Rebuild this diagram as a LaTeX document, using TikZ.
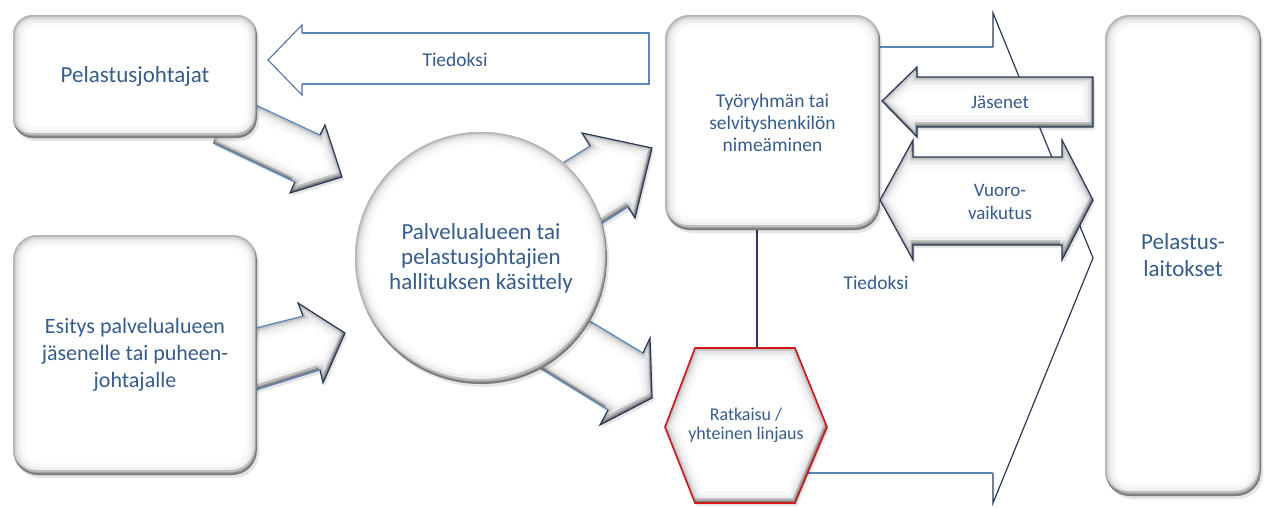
\documentclass[tikz,border=0pt]{standalone}
\usepackage{fontspec}
\setmainfont{Carlito}
\definecolor{txt}{RGB}{54,92,140}
\definecolor{lb}{RGB}{90,135,190}
\definecolor{db}{RGB}{42,58,88}
\definecolor{sb}{RGB}{85,112,160}
\definecolor{hexred}{RGB}{205,25,25}
\newcommand{\myfs}[2]{\fontsize{#1}{#2}\selectfont}
\newcommand{\bevelshape}[1]{%
  \fill[black, opacity=0.10, shift={(2,3)}] #1;
  \begin{scope}
    \clip #1;
    \fill[black!32] #1;
    \fill[black!16, shift={(-1,-2.5)}] #1;
    \fill[white, shift={(-2,-5)}] #1;
    \foreach \w/\o in {24/0.025, 16/0.04, 10/0.055, 6/0.08, 3/0.12} {\draw[black, opacity=\o, line width=\w] #1;}
  \end{scope}}
\tikzset{
  lbline/.style={draw=lb, line width=1.1pt},
  dbline/.style={draw=db, line width=1.2pt, line join=miter},
  sbline/.style={draw=sb, line width=1.1pt, line join=miter},
  lbl/.style={text=txt, align=center, inner sep=0pt}
}
\begin{document}
\begin{tikzpicture}[x=1pt,y=-1pt]
\useasboundingbox (0,0) rectangle (1265,507);
\fill[white] (0,0) rectangle (1265,507);

% big outline arrow (Tiedoksi) to Pelastuslaitokset
\draw[lbline] (870,47) -- (993,47);
\draw[dbline] (993,47) -- (993,13) -- (1093,258) -- (993,503) -- (993,473);
\draw[lbline] (993,473) -- (790,473);

% top outline arrow (Tiedoksi) to Pelastusjohtajat
\draw[lbline] (302,33) -- (649,33) -- (649,84) -- (302,84);
\draw[sbline] (302,84) -- (302,95) -- (268,60) -- (302,25) -- (302,33);

% shaded block arrows
\def\pathArA{(230,93) -- (320,135) -- (325,125) -- (342,177) -- (290,193) -- (295,182) -- (213,143) -- cycle}
\bevelshape{\pathArA}
\draw[lbline] (230,93) -- (320,135);
\draw[dbline] (320,135) -- (325,125) -- (342,177) -- (290,193) -- (295,182);
\draw[lbline] (295,182) -- (213,143);

\def\pathArB{(240,332) -- (303,316) -- (298,303) -- (345,333) -- (323,383) -- (320,370) -- (240,395) -- cycle}
\bevelshape{\pathArB}
\draw[lbline] (240,332) -- (303,316);
\draw[dbline] (303,316) -- (298,303) -- (345,333) -- (323,383) -- (320,370);
\draw[lbline] (320,370) -- (240,395);

\def\pathArC{(540,177) -- (590,146) -- (582,133) -- (652,148) -- (635,218) -- (628,207) -- (560,250) -- cycle}
\bevelshape{\pathArC}
\draw[lbline] (540,177) -- (590,146);
\draw[dbline] (590,146) -- (582,133) -- (652,148) -- (635,218) -- (628,207);
\draw[lbline] (628,207) -- (560,250);

\def\pathArD{(560,303) -- (643,353) -- (650,338) -- (652,398) -- (600,425) -- (608,410) -- (530,362) -- cycle}
\bevelshape{\pathArD}
\draw[lbline] (560,303) -- (643,353);
\draw[dbline] (643,353) -- (650,338) -- (652,398) -- (600,425) -- (608,410);
\draw[lbline] (608,410) -- (530,362);

% boxes
\def\pathPj{[rounded corners=20pt] (13,15) rectangle (257,138)}
\bevelshape{\pathPj}
\def\pathEs{[rounded corners=25pt] (13,235) rectangle (257,475)}
\bevelshape{\pathEs}
\def\pathTy{[rounded corners=25pt] (665,15) rectangle (880,230)}
\bevelshape{\pathTy}
\def\pathPe{[rounded corners=25pt] (1105,15) rectangle (1261,496)}
\bevelshape{\pathPe}
\def\pathCi{(481,258) circle[radius=126pt]}
\bevelshape{\pathCi}
\def\pathHx{(695,348) -- (795,348) -- (827,427) -- (795,503) -- (695,503) -- (665,427) -- cycle}
\bevelshape{\pathHx}
\draw[hexred, line width=1.6pt, line join=miter] \pathHx;

% Jäsenet and Vuorovaikutus arrows
\def\pathJa{(1093,77) -- (917,77) -- (917,67) -- (882,101) -- (917,137) -- (917,127) -- (1093,127) -- cycle}
\bevelshape{\pathJa}
\draw[dbline] \pathJa;
\def\pathVu{(880,200) -- (913,140) -- (913,157) -- (1062,157) -- (1062,140) -- (1093,200) -- (1062,260) -- (1062,245) -- (913,245) -- (913,260) -- cycle}
\bevelshape{\pathVu}
\draw[dbline] \pathVu;

% nodes
\node[lbl, font=\myfs{23}{25}, minimum width=244, minimum height=123] (pj) at (135,76.5) {Pelastusjohtajat};
\node[lbl, font=\myfs{22}{27}, minimum width=244, minimum height=240] (esitys) at (135,355) {Esitys palvelualueen\\jäsenelle tai puheen-\\johtajalle};
\node[lbl, font=\myfs{23}{25}, circle, minimum size=252] (kas) at (481,258) {Palvelualueen tai\\pelastusjohtajien\\hallituksen käsittely};
\node[lbl, font=\myfs{19.5}{22}, minimum width=215, minimum height=215] (tyo) at (772.5,122.5) {Työryhmän tai\\selvityshenkilön\\nimeäminen};
\node[lbl, font=\myfs{18}{19.5}, minimum width=162, minimum height=155] (rat) at (746,425.5) {Ratkaisu /\\yhteinen linjaus};
\node[lbl, font=\myfs{23}{27}, minimum width=156, minimum height=481] (pel) at (1183,255.5) {Pelastus-\\laitokset};
\node[lbl, font=\myfs{19}{22}] (jas) at (1000,102) {Jäsenet};
\node[lbl, font=\myfs{19}{23}] (vuo) at (1000,202) {Vuoro-\\vaikutus};
\node[lbl, font=\myfs{19.5}{22}] (tie1) at (455,60) {Tiedoksi};
\node[lbl, font=\myfs{19.5}{22}] (tie2) at (876,283) {Tiedoksi};

% connector
\coordinate (cx) at (757,0);
\draw[dbline] (cx |- tyo.south) -- (cx |- rat.north);
\end{tikzpicture}
\end{document}
